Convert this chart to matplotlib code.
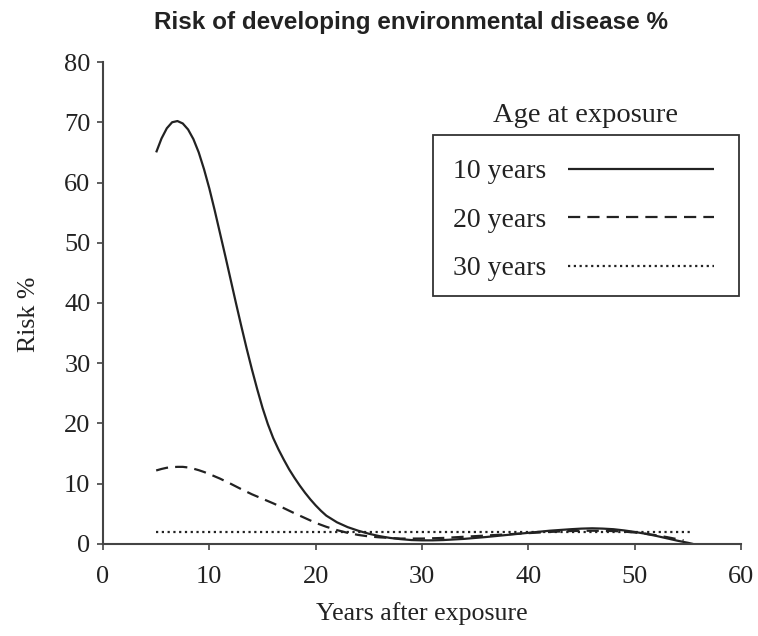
import matplotlib
matplotlib.use("Agg")
import matplotlib.pyplot as plt
from matplotlib.patches import Rectangle

# Data
x_10 = [5, 5.5, 6, 6.5, 7, 7.5, 8, 8.5, 9, 9.5, 10, 10.5, 11, 11.5, 12, 12.5, 13, 13.5,
        14, 14.5, 15, 15.5, 16, 16.5, 17, 17.5, 18, 18.5, 19, 19.5, 20, 20.5, 21, 22,
        23, 24, 25, 26, 27, 28, 29, 30, 31, 32, 34, 36, 38, 40, 42, 44, 45, 46, 47,
        48, 49, 50, 51, 52, 53, 54, 55, 55.5]
y_10 = [65.0, 67.3, 69.0, 70.0, 70.2, 69.8, 68.8, 67.2, 65.0, 62.2, 59.0, 55.4, 51.6,
        47.8, 43.9, 40.0, 36.2, 32.5, 29.0, 25.7, 22.6, 19.9, 17.6, 15.7, 14.0, 12.4,
        11.0, 9.7, 8.5, 7.4, 6.4, 5.5, 4.7, 3.6, 2.8, 2.2, 1.7, 1.3, 1.0, 0.8, 0.65,
        0.6, 0.6, 0.65, 0.85, 1.15, 1.5, 1.85, 2.2, 2.45, 2.55, 2.6, 2.55, 2.45, 2.25,
        2.0, 1.7, 1.35, 0.95, 0.55, 0.2, 0.0]

x_20 = [5, 5.5, 6, 6.5, 7, 7.5, 8, 8.5, 9, 9.5, 10, 11, 12, 13, 14, 15, 16, 17, 18,
        19, 20, 21, 22, 23, 24, 25, 26, 28, 30, 32, 34, 36, 38, 40, 42, 44, 46, 48,
        49, 50, 51, 52, 53, 54, 54.6]
y_20 = [12.2, 12.45, 12.65, 12.75, 12.8, 12.8, 12.7, 12.5, 12.25, 11.95, 11.6, 10.85,
        10.0, 9.1, 8.25, 7.5, 6.75, 5.95, 5.1, 4.3, 3.5, 2.85, 2.3, 1.85, 1.5, 1.25,
        1.1, 0.9, 0.9, 1.0, 1.2, 1.4, 1.6, 1.8, 2.0, 2.15, 2.2, 2.15, 2.05, 1.9, 1.7,
        1.45, 1.15, 0.8, 0.6]

x_30 = [5, 55.3]
y_30 = [2.0, 2.0]

labels = ["10 years", "20 years", "30 years"]
legend_title = "Age at exposure"
title = "Risk of developing environmental disease %"
xlabel = "Years after exposure"
ylabel = "Risk %"
xticks = [0, 10, 20, 30, 40, 50, 60]
yticks = [0, 10, 20, 30, 40, 50, 60, 70, 80]

SERIF = ["Liberation Serif", "DejaVu Serif"]
SANS = ["Liberation Sans", "DejaVu Sans"]
ink = "#222222"

fig = plt.figure(figsize=(7.58, 6.36), dpi=100)
ax = fig.add_axes([0.1359, 0.1447, 0.8417, 0.7578])

lw = 1.6
ax.plot(x_10, y_10, color=ink, lw=lw, solid_capstyle="butt", label=labels[0])
ax.plot(x_20, y_20, color=ink, lw=lw, dashes=(5.5, 3.2), label=labels[1])
ax.plot(x_30, y_30, color=ink, lw=lw, dashes=(1.0, 1.6), label=labels[2])

ax.set_xlim(0, 60)
ax.set_ylim(0, 80)
ax.set_xticks(xticks)
ax.set_yticks(yticks)
for s in ["top", "right"]:
    ax.spines[s].set_visible(False)
for s in ["left", "bottom"]:
    ax.spines[s].set_color("#444444")
    ax.spines[s].set_linewidth(1.5)
ax.tick_params(direction="out", length=4, width=1.2, color="#444444",
               labelsize=19, labelcolor=ink)
ax.tick_params(axis="x", pad=12)
ax.tick_params(axis="y", pad=5)
for t in ax.get_xticklabels() + ax.get_yticklabels():
    t.set_family(SERIF)

ax.set_xlabel(xlabel, family=SERIF, fontsize=18.6, color=ink, labelpad=10)
ax.set_ylabel(ylabel, family=SERIF, fontsize=18.6, color=ink)
ax.yaxis.set_label_coords(-0.098, 0.477)
fig.text(0.5416, 0.964, title, family=SANS, fontweight="bold", fontsize=17.5,
         color=ink, ha="center", va="center")

# legend box (frame drawn separately so that spacing can be matched)
ax.add_patch(Rectangle((0.517, 0.515), 0.4805, 0.334, transform=ax.transAxes,
                       fill=False, edgecolor="#333333", lw=1.3, zorder=5))
leg = ax.legend(loc="upper left", bbox_to_anchor=(0.5486, 0.799),
                markerfirst=False, frameon=False,
                handlelength=5.25, labelspacing=0.83, borderpad=0,
                handletextpad=0.79, borderaxespad=0,
                prop={"family": SERIF, "size": 20})
for t in leg.get_texts():
    t.set_color(ink)
ax.text(0.757, 0.888, legend_title, transform=ax.transAxes, ha="center", va="center",
        family=SERIF, fontsize=20.5, color=ink)

fig.savefig("out.png", dpi=100)
